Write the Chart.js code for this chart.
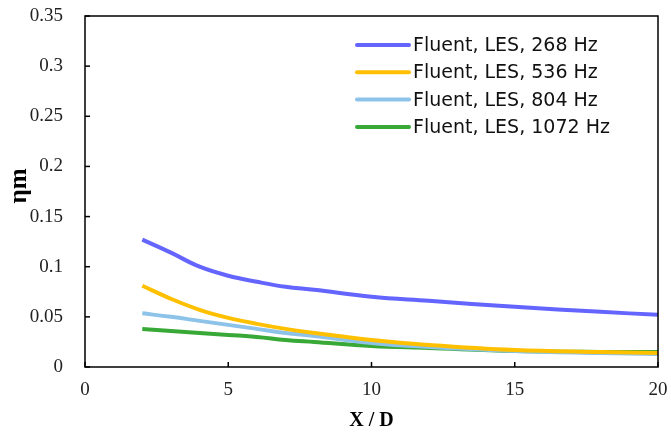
<!DOCTYPE html>
<html><head><meta charset="utf-8">
<script src="https://cdn.jsdelivr.net/npm/chart.js@4/dist/chart.umd.min.js"></script>
<style>html,body{margin:0;padding:0;background:#fff}#wrap{width:671px;height:437px}</style>
</head><body><div id="wrap"><canvas id="c" width="671" height="437"></canvas></div>
<script>
const xValues = [2, 3, 4, 5, 6, 7, 8, 10, 12, 15, 18, 20];
const s268 = [0.127, 0.114, 0.100, 0.091, 0.085, 0.080, 0.077, 0.070, 0.066, 0.060, 0.055, 0.052];
const s536 = [0.081, 0.068, 0.057, 0.049, 0.043, 0.038, 0.034, 0.027, 0.022, 0.017, 0.015, 0.014];
const s804 = [0.0535, 0.050, 0.046, 0.042, 0.038, 0.034, 0.031, 0.024, 0.020, 0.016, 0.014, 0.013];
const s1072 = [0.038, 0.036, 0.034, 0.032, 0.030, 0.027, 0.025, 0.021, 0.019, 0.016, 0.015, 0.015];
const seriesLabels = ['Fluent, LES, 268 Hz', 'Fluent, LES, 536 Hz', 'Fluent, LES, 804 Hz', 'Fluent, LES, 1072 Hz'];
const xTicks = [0, 5, 10, 15, 20];
const yTicks = [0, 0.05, 0.1, 0.15, 0.2, 0.25, 0.3, 0.35];

const colors = ['#6464FF', '#FFC000', '#8DC3E8', '#38A836'];
const allSeries = [s268, s536, s804, s1072];
const datasets = allSeries.map((s, i) => ({
  label: seriesLabels[i],
  data: xValues.map((x, j) => ({x: x, y: s[j]})),
  borderColor: colors[i], backgroundColor: colors[i],
  borderWidth: 4, pointRadius: 0, tension: 0.4, fill: false
}));

const tickFont = {family: '"Liberation Serif", "Times New Roman", serif', size: 19};

const frame = {
  id: 'frame',
  afterDraw(chart) {
    const {ctx, chartArea: a, scales} = chart;
    ctx.save();
    ctx.strokeStyle = '#000'; ctx.lineWidth = 1.5;
    ctx.strokeRect(a.left, a.top, a.right - a.left, a.bottom - a.top);
    ctx.lineWidth = 1.5;
    xTicks.forEach(v => { const px = scales.x.getPixelForValue(v); ctx.beginPath(); ctx.moveTo(px, a.bottom); ctx.lineTo(px, a.bottom - 5); ctx.stroke(); });
    yTicks.forEach(v => { const py = scales.y.getPixelForValue(v); ctx.beginPath(); ctx.moveTo(a.left, py); ctx.lineTo(a.left + 5, py); ctx.stroke(); });
    // legend
    ctx.font = '19px "DejaVu Sans", Verdana, sans-serif';
    ctx.textBaseline = 'middle';
    chart.data.datasets.forEach((d, i) => {
      const y = 45 + i * 27.3;
      ctx.strokeStyle = d.borderColor; ctx.lineWidth = 4; ctx.lineCap = 'round';
      ctx.beginPath(); ctx.moveTo(357, y); ctx.lineTo(409, y); ctx.stroke();
      ctx.fillStyle = '#111'; ctx.fillText(d.label, 413, y + 1);
    });
    // y title
    ctx.translate(20, 186); ctx.rotate(-Math.PI / 2);
    ctx.font = 'bold 25px "Liberation Serif", "Times New Roman", serif';
    ctx.textAlign = 'center'; ctx.fillStyle = '#000';
    ctx.fillText('\u03B7m', 0, 0);
    ctx.restore();
  }
};

new Chart(document.getElementById('c'), {
  type: 'line',
  data: {datasets},
  options: {
    responsive: false, animation: false,
    layout: {padding: {left: 0, right: 13, top: 16, bottom: 0}},
    plugins: {legend: {display: false}, tooltip: {enabled: false}},
    scales: {
      x: {
        type: 'linear', min: 0, max: 20,
        afterBuildTicks: s => { s.ticks = xTicks.map(v => ({value: v})); },
        afterFit: s => { s.height = 70; s.paddingLeft = 0; s.paddingRight = 0; },
        grid: {display: false, drawTicks: false},
        border: {display: false},
        ticks: {font: tickFont, color: '#222', padding: 12, maxRotation: 0},
        title: {display: true, text: 'X / D', font: {family: '"Liberation Serif", "Times New Roman", serif', size: 20, weight: 'bold'}, color: '#000', padding: {top: 0}}
      },
      y: {
        type: 'linear', min: 0, max: 0.35,
        afterBuildTicks: s => { s.ticks = yTicks.map(v => ({value: v})); },
        afterFit: s => { s.width = 85; s.paddingTop = 0; s.paddingBottom = 0; },
        grid: {display: false, drawTicks: false},
        border: {display: false},
        ticks: {font: tickFont, color: '#222', padding: 22, callback: v => String(+v.toFixed(2))}
      }
    }
  },
  plugins: [frame]
});
</script></body></html>
